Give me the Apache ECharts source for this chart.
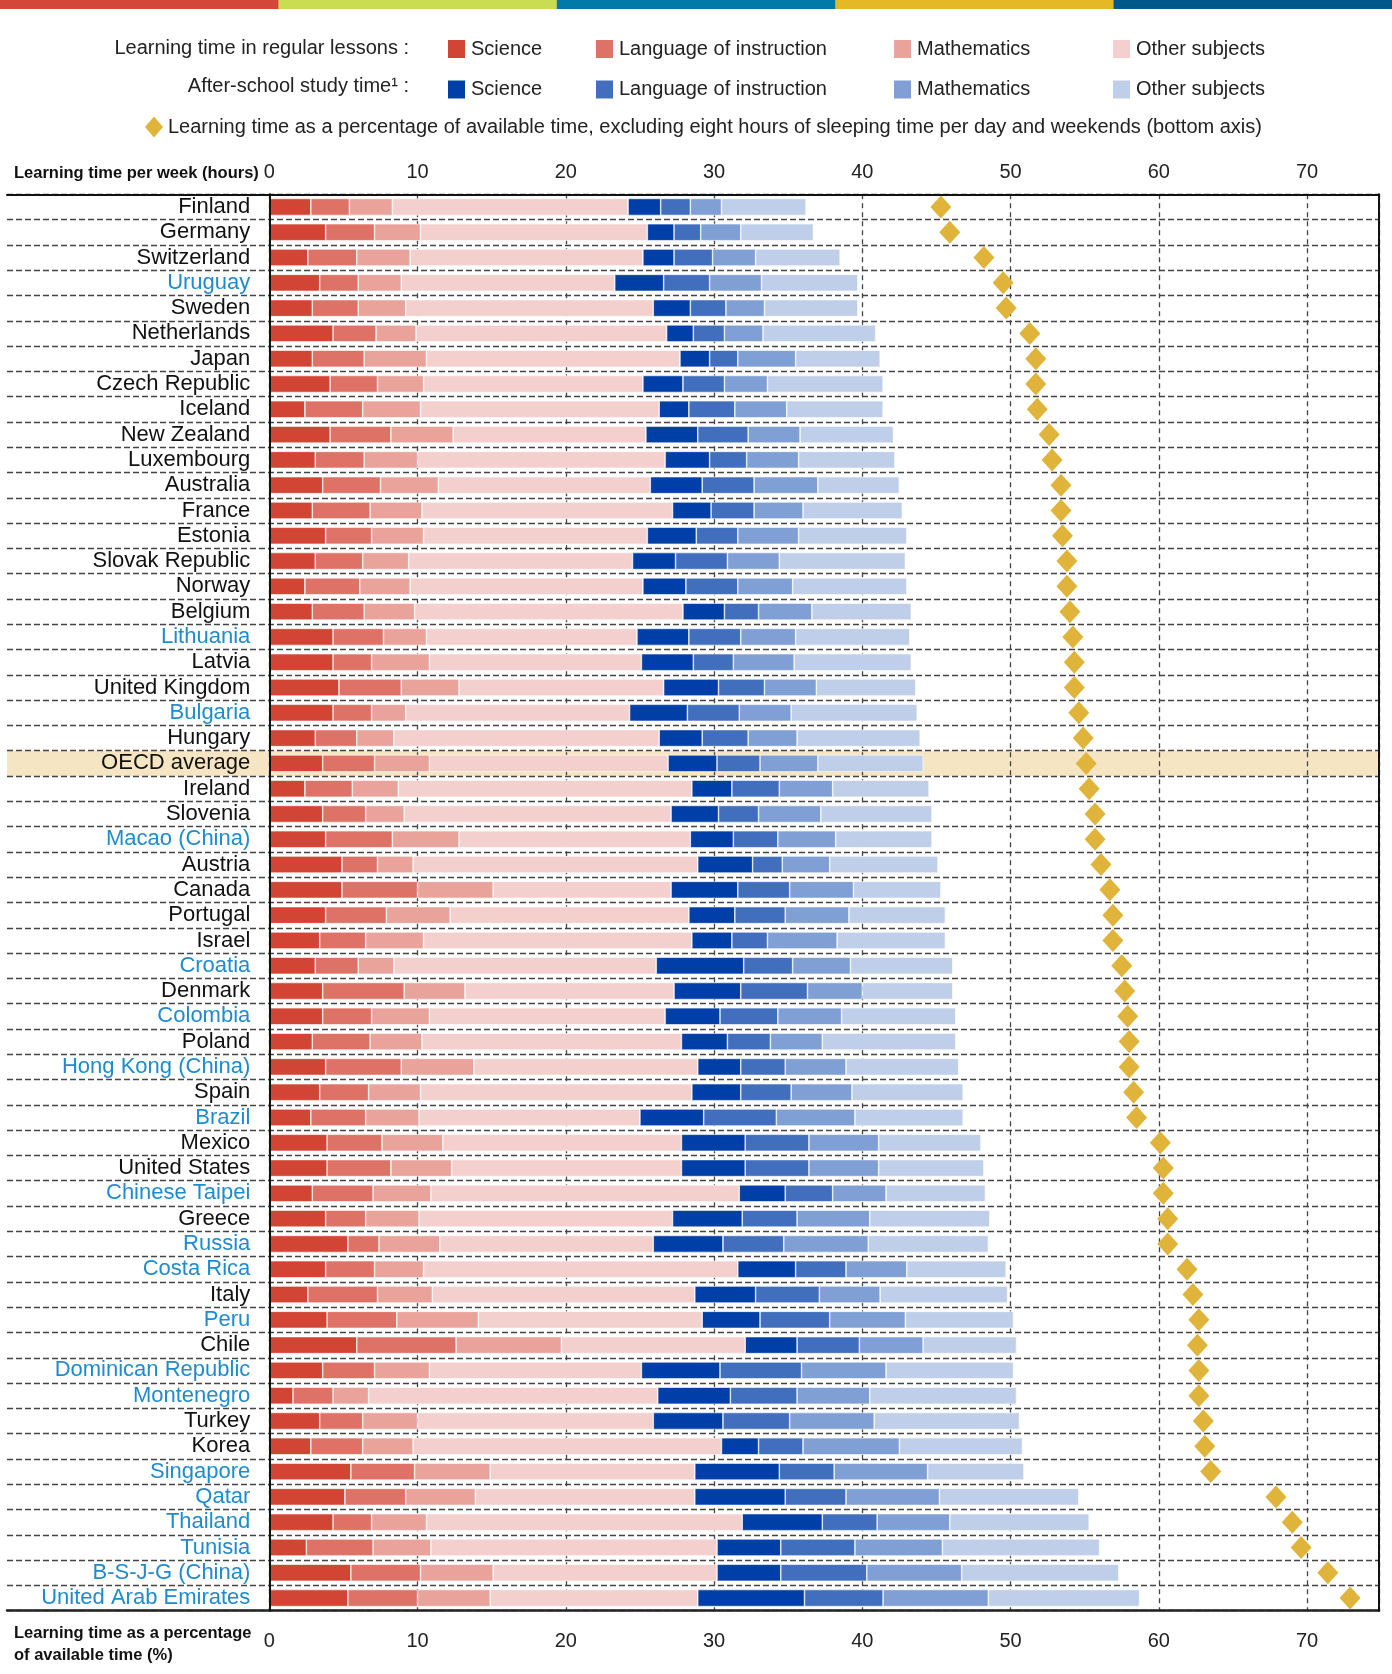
<!DOCTYPE html>
<html><head><meta charset="utf-8">
<script src="https://cdn.jsdelivr.net/npm/echarts@6/dist/echarts.min.js"></script>
<style>html,body{margin:0;padding:0;background:#fff}#c{width:1392px;height:1674px}</style>
</head><body><div id="c"></div>
<script>
const countries = ["Finland","Germany","Switzerland","Uruguay","Sweden","Netherlands","Japan","Czech Republic","Iceland","New Zealand","Luxembourg","Australia","France","Estonia","Slovak Republic","Norway","Belgium","Lithuania","Latvia","United Kingdom","Bulgaria","Hungary","OECD average","Ireland","Slovenia","Macao (China)","Austria","Canada","Portugal","Israel","Croatia","Denmark","Colombia","Poland","Hong Kong (China)","Spain","Brazil","Mexico","United States","Chinese Taipei","Greece","Russia","Costa Rica","Italy","Peru","Chile","Dominican Republic","Montenegro","Turkey","Korea","Singapore","Qatar","Thailand","Tunisia","B-S-J-G (China)","United Arab Emirates"];
const partners = ["Uruguay","Lithuania","Bulgaria","Macao (China)","Croatia","Colombia","Hong Kong (China)","Brazil","Chinese Taipei","Russia","Costa Rica","Peru","Dominican Republic","Montenegro","Singapore","Qatar","Thailand","Tunisia","B-S-J-G (China)","United Arab Emirates"];
const highlightRow = "OECD average";

// Learning time in regular lessons (hours per week)
const regScience  = [2.8,3.8,2.6,3.4,2.9,4.3,2.9,4.1,2.4,4.1,3.1,3.6,2.9,3.8,3.1,2.4,2.9,4.3,4.3,4.7,4.3,3.1,3.6,2.4,3.6,3.8,4.9,4.9,3.8,3.4,3.1,3.6,3.6,2.9,3.8,3.4,2.8,3.9,3.9,2.9,3.8,5.3,3.8,2.6,3.9,5.9,3.6,1.6,3.4,2.8,5.5,5.1,4.3,2.5,5.5,5.3];
const regLanguage = [2.6,3.3,3.3,2.6,3.1,2.9,3.5,3.2,3.9,4.1,3.3,3.9,3.9,3.1,3.2,3.7,3.5,3.4,2.6,4.2,2.6,2.8,3.5,3.2,2.9,4.5,2.4,5.1,4.1,3.1,2.9,5.5,3.3,3.9,5.1,3.3,3.7,3.7,4.3,4.1,2.7,2.1,3.3,4.7,4.7,6.7,3.5,2.7,2.9,3.5,4.3,4.1,2.6,4.5,4.7,4.7];
const regMaths    = [2.9,3.1,3.6,2.9,3.2,2.7,4.2,3.1,3.9,4.2,3.6,3.9,3.5,3.5,3.1,3.4,3.4,2.9,3.9,3.9,2.3,2.5,3.7,3.1,2.6,4.5,2.4,5.1,4.3,3.9,2.4,4.1,3.9,3.5,4.9,3.5,3.6,4.1,4.1,3.9,3.6,4.1,3.3,3.7,5.5,7.1,3.7,2.4,3.7,3.4,5.1,4.7,3.7,3.9,4.9,4.9];
const regOther    = [15.9,15.3,15.7,14.4,16.7,16.9,17.1,14.8,16.1,13.0,16.7,14.3,16.9,15.1,15.1,15.7,18.1,14.2,14.3,13.8,15.1,17.9,16.1,19.8,18.0,15.6,19.2,12.0,16.1,18.1,17.7,14.1,15.9,17.5,15.1,18.3,14.9,16.1,15.5,20.8,17.1,14.4,21.2,17.7,15.1,12.4,14.3,19.5,15.9,20.8,13.8,14.8,21.3,19.3,15.1,14.0];
// After-school study time (hours per week)
const asScience   = [2.2,1.8,2.1,3.3,2.5,1.8,2.0,2.7,2.0,3.5,3.0,3.5,2.6,3.3,2.9,2.9,2.8,3.5,3.5,3.7,3.9,2.9,3.3,2.7,3.2,2.9,3.7,4.5,3.1,2.7,5.9,4.5,3.7,3.1,2.9,3.3,4.3,4.3,4.3,3.1,4.7,4.7,3.9,4.1,3.9,3.5,5.3,4.9,4.7,2.5,5.7,6.1,5.4,4.3,4.3,7.2];
const asLanguage  = [2.0,1.8,2.6,3.1,2.4,2.1,1.9,2.8,3.1,3.4,2.5,3.5,2.9,2.8,3.5,3.5,2.3,3.5,2.7,3.1,3.5,3.1,2.9,3.2,2.7,3.0,2.0,3.5,3.4,2.4,3.3,4.5,3.9,2.9,3.0,3.4,4.9,4.3,4.3,3.2,3.7,4.1,3.4,4.3,4.7,4.2,5.5,4.5,4.5,3.0,3.7,4.1,3.7,5.0,5.8,5.3];
const asMaths     = [2.1,2.7,2.9,3.5,2.6,2.6,3.9,2.9,3.5,3.5,3.5,4.3,3.3,4.1,3.5,3.7,3.6,3.7,4.1,3.5,3.5,3.3,3.9,3.6,4.2,3.9,3.2,4.3,4.3,4.7,3.9,3.7,4.3,3.5,4.1,4.1,5.3,4.7,4.7,3.6,4.9,5.7,4.1,4.1,5.1,4.3,5.7,4.9,5.7,6.5,6.3,6.3,4.9,5.9,6.4,7.1];
const asOther     = [5.7,4.9,5.7,6.5,6.3,7.6,5.7,7.8,6.5,6.3,6.5,5.5,6.7,7.3,8.5,7.7,6.7,7.7,7.9,6.7,8.5,8.3,7.1,6.5,7.5,6.5,7.3,5.9,6.5,7.3,6.9,6.1,7.7,9.0,7.6,7.5,7.3,6.9,7.1,6.7,8.1,8.1,6.7,8.6,7.3,6.3,8.6,9.9,9.8,8.3,6.5,9.4,9.4,10.6,10.6,10.2];
// Learning time as a percentage of available time (bottom axis)
const pctAvailable = [45.3,45.9,48.2,49.5,49.7,51.3,51.7,51.7,51.8,52.6,52.8,53.4,53.4,53.5,53.8,53.8,54.0,54.2,54.3,54.3,54.6,54.9,55.1,55.3,55.7,55.7,56.1,56.7,56.9,56.9,57.5,57.7,57.9,58.0,58.0,58.3,58.5,60.1,60.3,60.3,60.6,60.6,61.9,62.3,62.7,62.6,62.7,62.7,63.0,63.1,63.5,67.9,69.0,69.6,71.4,72.9];
const axisTicks = [0,10,20,30,40,50,60,70];

const subjectLabel = {
  "Regular lessons: Science":"Science","Regular lessons: Language of instruction":"Language of instruction",
  "Regular lessons: Mathematics":"Mathematics","Regular lessons: Other subjects":"Other subjects",
  "After-school: Science":"Science","After-school: Language of instruction":"Language of instruction",
  "After-school: Mathematics":"Mathematics","After-school: Other subjects":"Other subjects",
  "Learning time as a percentage of available time":"Learning time as a percentage of available time, excluding eight hours of sleeping time per day and weekends (bottom axis)"
};
const FONT = '"Liberation Sans", Arial, sans-serif';
const AXMAX = 74.85;

const segs = [
  ["Regular lessons: Science", regScience, "#D24434"],
  ["Regular lessons: Language of instruction", regLanguage, "#DE7266"],
  ["Regular lessons: Mathematics", regMaths, "#E9A39B"],
  ["Regular lessons: Other subjects", regOther, "#F3D0CD"],
  ["After-school: Science", asScience, "#003FA7"],
  ["After-school: Language of instruction", asLanguage, "#416FBE"],
  ["After-school: Mathematics", asMaths, "#7F9FD5"],
  ["After-school: Other subjects", asOther, "#BFCFEA"]
];

const catData = countries.map(c => ({
  value: c,
  textStyle: { color: partners.includes(c) ? "#1F8BCF" : "#111" }
}));

const chart = echarts.init(document.getElementById('c'), null, {renderer:'canvas'});

const series = segs.map(([name, arr, color]) => ({
  name, type:'bar', stack:'hours', xAxisIndex:0, yAxisIndex:0,
  barWidth:17, z:2, silent:true,
  itemStyle:{ color, borderColor:'#fff', borderWidth:0.6 },
  data: arr
}));
series.push({
  name:"Learning time as a percentage of available time", type:'scatter',
  xAxisIndex:1, yAxisIndex:0, symbol:'diamond', symbolSize:[21,23], z:4, silent:true,
  itemStyle:{ color:'#E0B43A', opacity:1 }, data: pctAvailable
});
series.push({
  name:'highlight', type:'bar', xAxisIndex:2, yAxisIndex:2, barWidth:'100%', z:0, silent:true,
  itemStyle:{ color:'#F5E5C3' },
  data: countries.map(c => c === highlightRow ? 1 : '-')
});

const legendBase = {
  orient:'vertical', top:33, itemGap:18.4, itemWidth:19, itemHeight:20, icon:'rect',
  selectedMode:false, textStyle:{ fontSize:20, color:'#222', fontFamily:FONT },
  formatter: n => subjectLabel[n]
};
const legends = [
  Object.assign({}, legendBase, { left:441, data:[segs[0][0], segs[4][0]] }),
  Object.assign({}, legendBase, { left:589, data:[segs[1][0], segs[5][0]] }),
  Object.assign({}, legendBase, { left:887, data:[segs[2][0], segs[6][0]] }),
  Object.assign({}, legendBase, { left:1106, data:[segs[3][0], segs[7][0]] }),
  { orient:'horizontal', left:140, top:111.5, itemWidth:18, itemHeight:21, icon:'diamond', selectedMode:false,
    itemStyle:{ color:'#E0B43A', opacity:1 },
    textStyle:{ fontSize:20, color:'#222', fontFamily:FONT }, formatter: n => subjectLabel[n],
    data:["Learning time as a percentage of available time"] }
];

const txt = (x, y, text, opts) => ({
  type:'text', x, y, silent:true, z:10,
  style: Object.assign({ text, fill:'#222', font:'20px ' + FONT, align:'left', verticalAlign:'middle',
    textAlign:'left', textVerticalAlign:'middle' }, opts || {})
});
const stripColors = ['#D4453A','#C9DC52','#0079A8','#E5B826','#00578A'];
const graphics = stripColors.map((c, i) => ({
  type:'rect', silent:true, shape:{ x: i*278.4, y:0, width:278.4+1, height:9 }, style:{ fill:c }
}));
graphics.push(txt(409, 48, 'Learning time in regular lessons :', { align:'right', textAlign:'right' }));
graphics.push(txt(409, 86.5, 'After-school study time\u00B9 :', { align:'right', textAlign:'right' }));
graphics.push(txt(14, 173, 'Learning time per week (hours)', { font:'bold 16.5px ' + FONT, fill:'#111' }));
graphics.push(txt(14, 1633, 'Learning time as a percentage', { font:'bold 16.5px ' + FONT, fill:'#111' }));
graphics.push(txt(14, 1655, 'of available time (%)', { font:'bold 16.5px ' + FONT, fill:'#111' }));

const gridTop = 194.3, gridBottom = 1674 - 1610.7;
const valueAxisCommon = {
  type:'value', min:0, max:AXMAX, interval:10, gridIndex:0, z:1,
  axisLine:{ show:false }, axisTick:{ show:false }
};

chart.setOption({
  animation:false,
  backgroundColor:'#fff',
  textStyle:{ fontFamily:FONT },
  legend: legends,
  graphic: graphics,
  grid: [
    { left:269.3, right:13, top:gridTop, bottom:gridBottom, containLabel:false },
    { left:7, right:13, top:gridTop, bottom:gridBottom, containLabel:false }
  ],
  xAxis: [
    Object.assign({}, valueAxisCommon, {
      position:'top',
      axisLabel:{ show:true, fontSize:20, color:'#222', margin:12, showMaxLabel:false,
        formatter: v => axisTicks.includes(v) ? String(v) : '' },
      splitLine:{ show:true, lineStyle:{ color:'#444', width:1.3, type:[5,4] } }
    }),
    Object.assign({}, valueAxisCommon, {
      position:'bottom',
      axisLabel:{ show:true, fontSize:20, color:'#222', margin:21, showMaxLabel:false,
        formatter: v => axisTicks.includes(v) ? String(v) : '' },
      splitLine:{ show:false }
    }),
    { type:'value', gridIndex:1, position:'top', min:0, max:1, z:1,
      axisLine:{ show:true, onZero:false, lineStyle:{ color:'#111', width:2 } },
      axisTick:{ show:false }, axisLabel:{ show:false }, splitLine:{ show:false } },
    { type:'value', gridIndex:1, position:'bottom', min:0, max:1, z:1,
      axisLine:{ show:true, onZero:false, lineStyle:{ color:'#222', width:2.5 } },
      axisTick:{ show:false }, axisLabel:{ show:false }, splitLine:{ show:false } }
  ],
  yAxis: [
    { type:'category', gridIndex:0, inverse:true, data:catData, z:3,
      axisLine:{ show:true, onZero:false, lineStyle:{ color:'#111', width:2 } },
      axisTick:{ show:false },
      axisLabel:{ fontSize:22, margin:19, fontFamily:FONT, interval:0 },
      splitLine:{ show:false } },
    { type:'category', gridIndex:0, inverse:true, position:'right', data:countries, z:3,
      axisLine:{ show:true, onZero:false, lineStyle:{ color:'#111', width:2 } },
      axisTick:{ show:false }, axisLabel:{ show:false }, splitLine:{ show:false } },
    { type:'category', gridIndex:1, inverse:true, data:countries, z:1,
      axisLine:{ show:false }, axisTick:{ show:false }, axisLabel:{ show:false },
      splitLine:{ show:true, interval:0, lineStyle:{ color:'#444', width:1.4, type:[6,3] } } }
  ],
  series
});
</script>
</body></html>
